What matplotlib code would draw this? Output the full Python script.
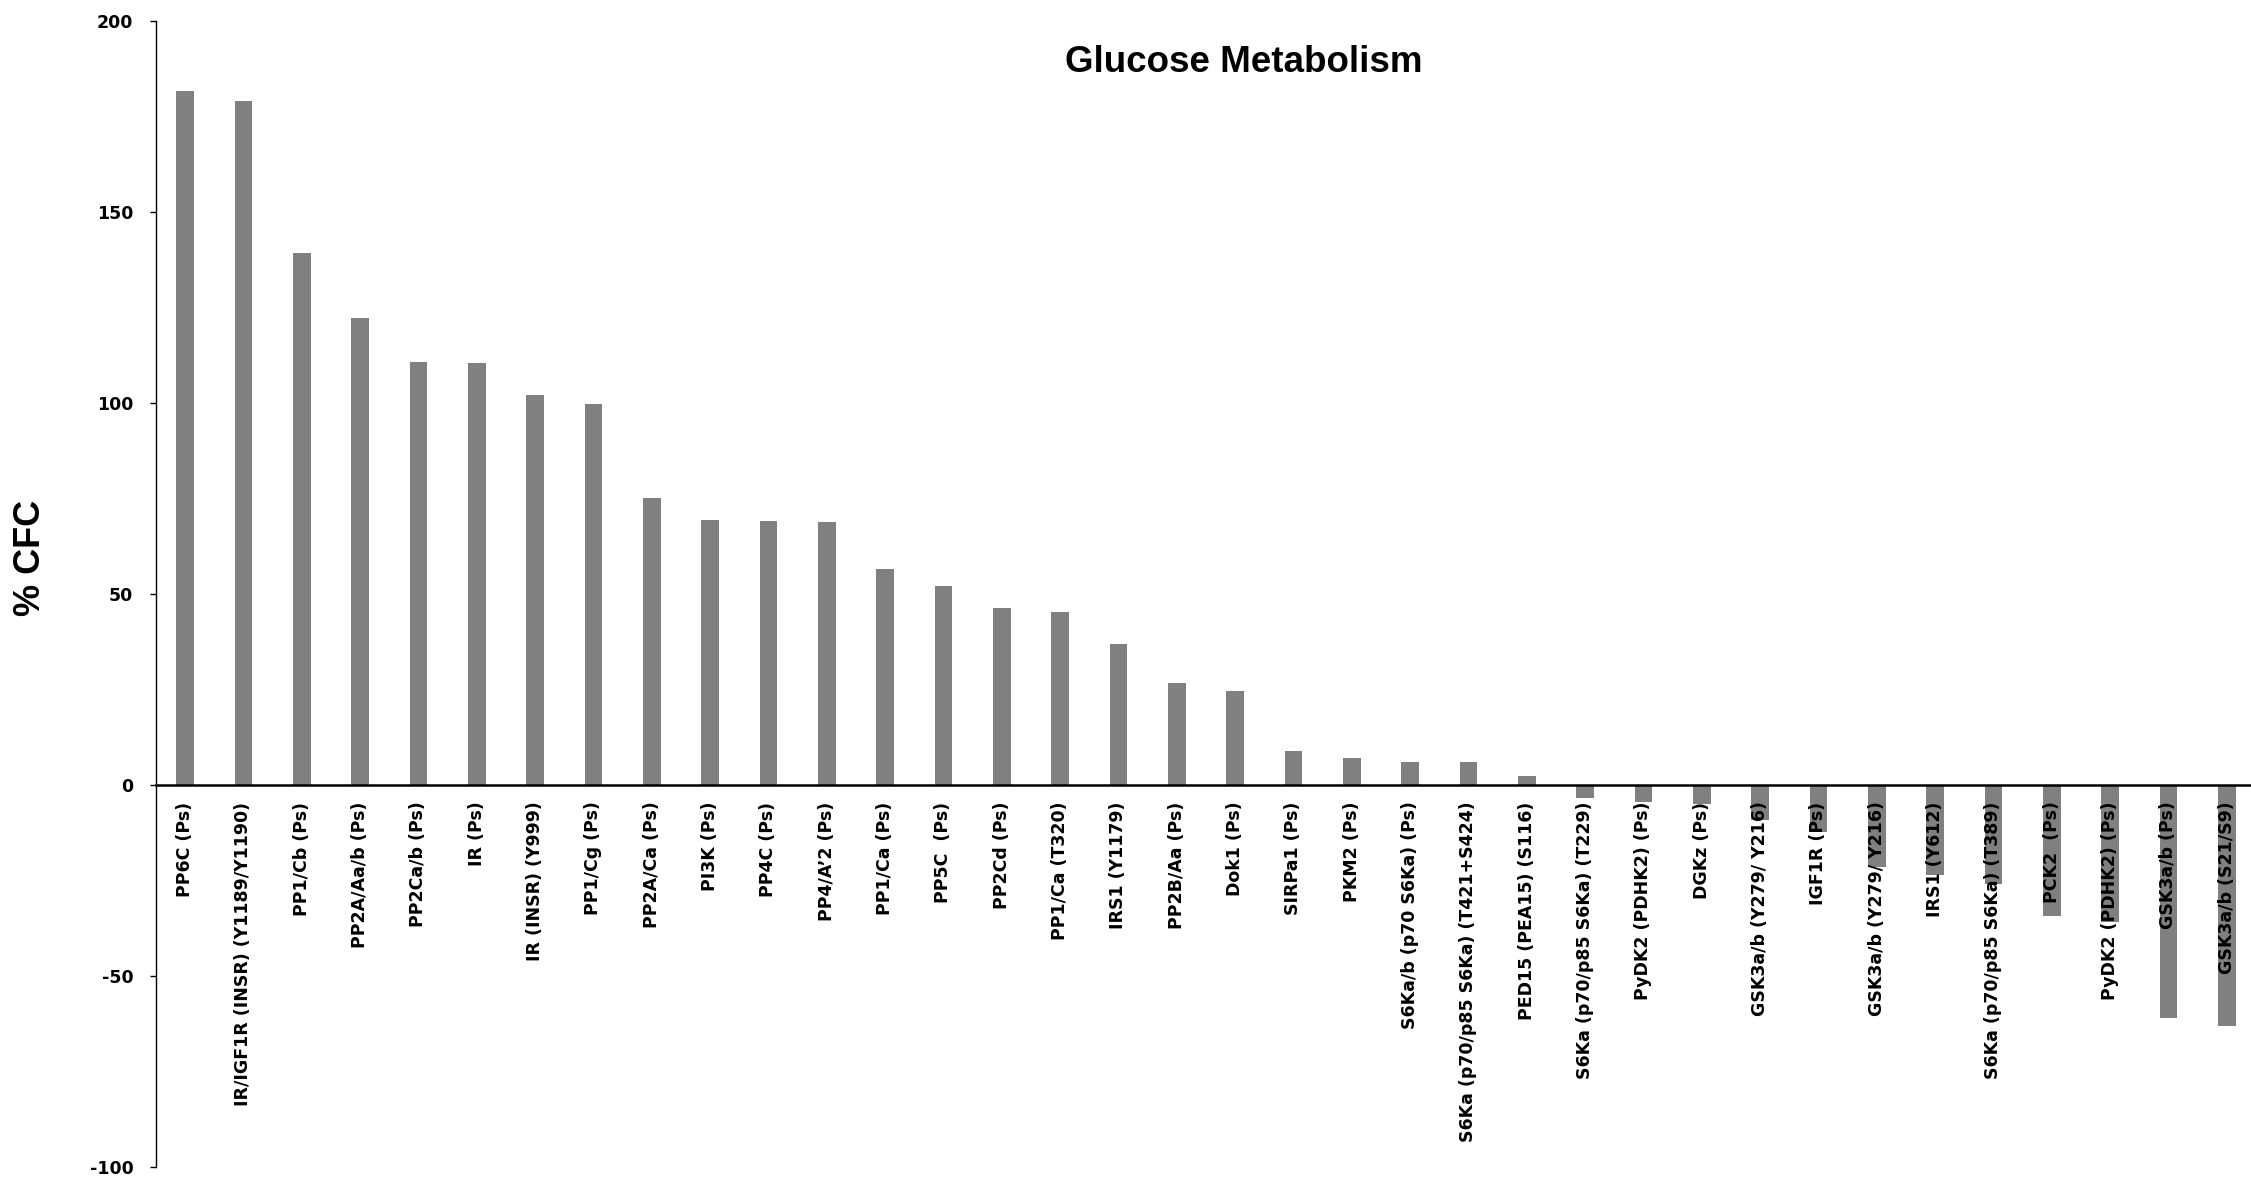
import matplotlib
matplotlib.use("Agg")
import matplotlib.pyplot as plt
import numpy as np

categories = [
    "PP6C (Ps)",
    "IR/IGF1R (INSR) (Y1189/Y1190)",
    "PP1/Cb (Ps)",
    "PP2A/Aa/b (Ps)",
    "PP2Ca/b (Ps)",
    "IR (Ps)",
    "IR (INSR) (Y999)",
    "PP1/Cg (Ps)",
    "PP2A/Ca (Ps)",
    "PI3K (Ps)",
    "PP4C (Ps)",
    "PP4/A\u20192 (Ps)",
    "PP1/Ca (Ps)",
    "PP5C  (Ps)",
    "PP2Cd (Ps)",
    "PP1/Ca (T320)",
    "IRS1 (Y1179)",
    "PP2B/Aa (Ps)",
    "Dok1 (Ps)",
    "SIRPa1 (Ps)",
    "PKM2 (Ps)",
    "S6Ka/b (p70 S6Ka) (Ps)",
    "S6Ka (p70/p85 S6Ka) (T421+S424)",
    "PED15 (PEA15) (S116)",
    "S6Ka (p70/p85 S6Ka) (T229)",
    "PyDK2 (PDHK2) (Ps)",
    "DGKz (Ps)",
    "GSK3a/b (Y279/ Y216)",
    "IGF1R (Ps)",
    "GSK3a/b (Y279/ Y216)",
    "IRS1 (Y612)",
    "S6Ka (p70/p85 S6Ka) (T389)",
    "PCK2  (Ps)",
    "PyDK2 (PDHK2) (Ps)",
    "GSK3a/b (Ps)",
    "GSK3a/b (S21/S9)",
]

values = [
    181.6, 179.1, 139.2, 122.1, 110.7, 110.3, 102.1, 99.8, 75.2, 69.4,
    69.0, 68.9, 56.5, 52.0, 46.4, 45.3, 36.8, 26.6, 24.5, 8.8,
    7.0, 6.1, 6.1, 2.4, -3.5, -4.4, -5.0, -9.3, -12.2, -21.4,
    -23.7, -25.9, -34.2, -36.0, -61.0, -63.0,
]

yticks = [-100, -50, 0, 50, 100, 150, 200]

W, H = 2251, 1182
dpi = 100
fig = plt.figure(figsize=(W / dpi, H / dpi), dpi=dpi)
fig.patch.set_facecolor("white")

left = 156 / W
bottom = (H - 1167) / H
top = (H - 20.7) / H
right = (156 + 36 * 58.33) / W
ax = fig.add_axes([left, bottom, right - left, top - bottom])

x = np.arange(len(categories))
ax.bar(x, values, width=0.303, color="#808080", edgecolor="none", zorder=1)

ax.spines["top"].set_visible(False)
ax.spines["right"].set_visible(False)
ax.spines["bottom"].set_position(("data", 0))
ax.spines["bottom"].set_linewidth(1.8)
ax.spines["left"].set_linewidth(1.0)

ax.set_xlim(-0.5, len(categories) - 0.5)
ax.set_ylim(-100, 200)

ax.tick_params(axis="x", length=0, pad=12)
ax.tick_params(axis="y", direction="out", length=4.3, width=1.0, pad=12)

ax.set_yticks(yticks)
ax.set_yticklabels([str(t) for t in yticks], fontfamily="DejaVu Sans", fontweight="bold", fontsize=12.5)

ax.set_xticks(x)
ax.set_xticklabels(categories, rotation=90, ha="center", va="top",
                   fontfamily="DejaVu Sans", fontweight="bold", fontsize=12.5)

for lbl in ax.get_xticklabels():
    lbl.set_zorder(5)

fig.text(1244 / W, 1 - 71.7 / H, "Glucose Metabolism", ha="center", va="baseline",
         fontfamily="Liberation Sans", fontweight="bold", fontsize=26.5)

fig.text(31 / W, 1 - 558 / H, "% CFC", ha="center", va="center", rotation=90,
         fontfamily="Liberation Sans", fontweight="bold", fontsize=26)

fig.savefig("out.png", dpi=dpi, facecolor="white")
